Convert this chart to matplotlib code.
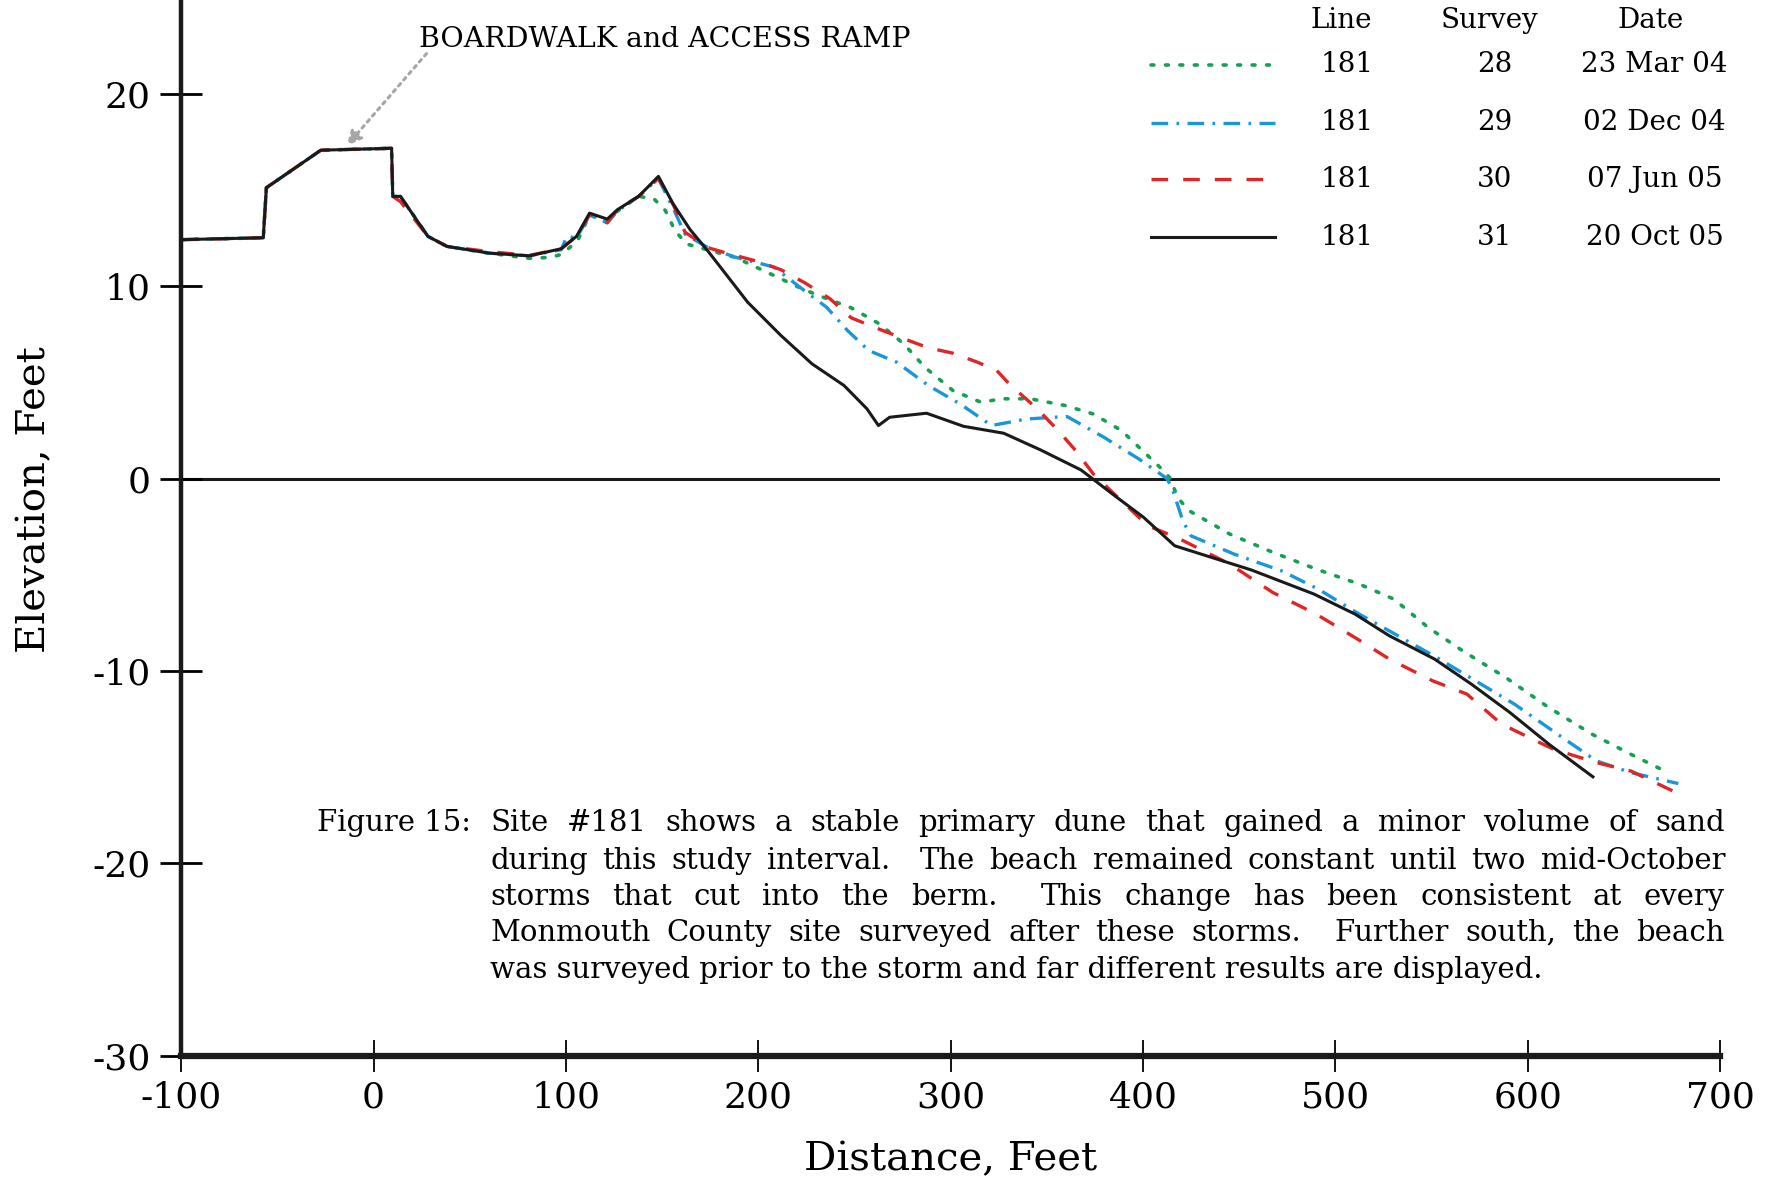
import re
import matplotlib.pyplot as plt

plt.rcParams['font.family'] = ['DejaVu Serif']

# Profile line 181, four surveys (distance ft, elevation ft)
x28 = [-100, -57.3, -55.7, -27.4, 9.4, 10.0, 14.0, 28.3, 38.2, 60.1, 81.0, 92.0, 97.6,
       106.0, 112.3, 121.5, 126.8, 137.8, 145.7, 151.7, 156.7, 162.6, 171.6, 188.0,
       208.1, 222.7, 233.7, 248.3, 262.9, 275.7, 286.6, 301.2, 315.8, 326.7, 341.4,
       359.6, 374.2, 388.8, 401.6, 410.6, 414.3, 417.9, 423.8, 445.1, 467.5, 490.0,
       512.4, 530.4, 548.3, 566.2, 588.6, 611.0, 633.4, 653.7, 669.3]
y28 = [12.42, 12.52, 15.12, 17.07, 17.17, 14.67, 14.67, 12.59, 12.07, 11.72, 11.45, 11.5, 11.65,
       12.35, 13.7, 13.4, 13.9, 14.67, 14.55, 13.94, 12.9, 12.2, 11.95, 11.5,
       10.56, 9.87, 9.43, 8.88, 8.05, 7.0, 5.79, 4.58, 3.97, 4.15, 4.15,
       3.8, 3.36, 2.5, 1.28, 0.42, 0.0, -0.97, -1.66, -2.88, -3.83, -4.7,
       -5.48, -6.26, -7.74, -8.95, -10.34, -11.9, -13.28, -14.33, -15.1]

x29 = [-100, -57.3, -55.7, -27.4, 9.4, 10.0, 14.0, 28.3, 38.2, 60.1, 81.0, 97.6, 100.5,
       105.5, 112.3, 121.5, 126.8, 137.8, 148.1, 156.0, 162.0, 174.0, 188.1, 208.1,
       222.7, 235.5, 246.4, 257.4, 272.0, 288.4, 304.8, 321.3, 339.5, 360.5, 379.7,
       397.9, 412.5, 415.3, 420.7, 424.9, 447.3, 472.0, 491.1, 512.4, 532.6, 552.8,
       572.9, 593.1, 615.5, 635.7, 653.7, 678.3]
y29 = [12.42, 12.52, 15.12, 17.07, 17.17, 14.67, 14.67, 12.59, 12.07, 11.72, 11.58, 11.9, 12.6,
       12.5, 13.7, 13.3, 13.9, 14.67, 15.6, 14.0, 12.7, 12.0, 11.51, 11.0,
       9.87, 8.91, 7.7, 6.66, 6.05, 4.84, 3.89, 2.76, 3.1, 3.23, 2.15,
       1.02, 0.0, -0.54, -2.19, -2.97, -3.92, -4.79, -5.74, -7.04, -8.17, -9.3,
       -10.51, -11.72, -13.28, -14.67, -15.28, -15.85]

x30 = [-100, -57.3, -55.7, -27.4, 9.4, 10.0, 14.0, 28.3, 38.2, 60.1, 81.0, 97.6, 105.5,
       112.3, 121.5, 126.8, 137.8, 148.1, 156.0, 162.0, 174.0, 183.6, 199.0, 211.8,
       224.5, 237.3, 248.3, 261.1, 275.7, 288.4, 301.2, 314.0, 324.0, 330.4, 345.0,
       355.9, 365.0, 374.2, 385.1, 402.5, 418.2, 445.1, 467.5, 490.0, 510.2, 528.1,
       550.6, 568.4, 586.4, 613.3, 635.7, 653.7, 678.3]
y30 = [12.42, 12.52, 15.12, 17.07, 17.17, 14.67, 14.4, 12.59, 12.07, 11.8, 11.6, 11.95, 12.59,
       13.7, 13.3, 13.98, 14.67, 15.6, 14.2, 12.8, 12.0, 11.72, 11.31, 10.86,
       10.16, 9.35, 8.36, 7.84, 7.27, 6.8, 6.52, 6.05, 5.62, 4.93, 3.63,
       2.5, 1.46, 0.24, -0.8, -2.45, -3.09, -4.44, -5.92, -7.04, -8.26, -9.38,
       -10.51, -11.2, -12.76, -14.06, -14.76, -15.2, -16.37]

x31 = [-100, -57.3, -55.7, -27.4, 9.4, 10.0, 14.0, 28.3, 38.2, 60.1, 81.0, 97.6, 105.5,
       112.3, 121.5, 126.8, 137.8, 148.1, 155.7, 164.6, 173.6, 194.5, 211.8, 227.9,
       244.6, 256.5, 262.5, 268.3, 287.5, 306.7, 327.6, 346.8, 367.8, 386.0, 400.3,
       416.5, 456.4, 488.9, 510.2, 528.1, 551.6, 570.7, 590.8, 611.0, 633.9]
y31 = [12.42, 12.52, 15.12, 17.07, 17.17, 14.67, 14.67, 12.59, 12.07, 11.72, 11.58, 11.95, 12.59,
       13.8, 13.49, 13.98, 14.67, 15.71, 14.29, 12.94, 11.86, 9.17, 7.44, 5.97,
       4.84, 3.63, 2.76, 3.19, 3.4, 2.72, 2.36, 1.49, 0.45, -0.94, -2.01,
       -3.49, -4.75, -6.0, -7.04, -8.17, -9.38, -10.68, -12.16, -13.8, -15.5]

line_ids = ['181', '181', '181', '181']
survey_ids = ['28', '29', '30', '31']
dates = ['23 Mar 04', '02 Dec 04', '07 Jun 05', '20 Oct 05']

xticks = [-100, 0, 100, 200, 300, 400, 500, 600, 700]
yticks = [-30, -20, -10, 0, 10, 20]

caption_lines = [
    "Site #181 shows a stable primary dune that gained a minor volume of sand",
    "during this study interval.  The beach remained constant until two mid-October",
    "storms that cut into the berm.  This change has been consistent at every",
    "Monmouth County site surveyed after these storms.  Further south, the beach",
    "was surveyed prior to the storm and far different results are displayed.",
]

green = '#17a052'
blue = '#1a96dc'
red = '#de2626'

styles = [
    dict(color=green, lw=2.6, ls=(0, (0.8, 3.2)), dash_capstyle='round'),
    dict(color=blue, lw=2.4, ls=(0, (5, 2.5, 0.8, 2.5))),
    dict(color=red, lw=2.4, ls=(0, (5, 4.5))),
    dict(color='#1a1a1a', lw=2.2, ls='-'),
]

fig = plt.figure(figsize=(17.76, 11.81), dpi=100)
ax = fig.add_axes([0.102, 0.106, 0.8665, 0.896])

series = [(x28, y28), (x29, y29), (x30, y30), (x31, y31)]
for (xs, ys), st in zip(series, styles):
    ax.plot(xs, ys, **st)

ax.axhline(0, color='#1a1a1a', lw=2.2, zorder=1)

ax.set_xlim(-100, 700)
ax.set_ylim(-30, 25)
ax.set_xticks(xticks)
ax.set_yticks(yticks)
ax.set_xticklabels([str(v) for v in xticks])
ax.set_yticklabels([str(v) for v in yticks])
ax.tick_params(axis='x', direction='inout', length=23, width=1.3, labelsize=26, pad=6)
ax.tick_params(axis='y', direction='inout', length=30, width=2.0, labelsize=26, pad=7)

for side in ['top', 'right']:
    ax.spines[side].set_visible(False)
ax.spines['left'].set_linewidth(3.2)
ax.spines['bottom'].set_linewidth(4.5)
ax.spines['left'].set_color('#1a1a1a')
ax.spines['bottom'].set_color('#1a1a1a')

ax.set_xlabel('Distance, Feet', fontsize=29)
ax.set_ylabel('Elevation, Feet', fontsize=29)
ax.xaxis.set_label_coords(0.5, -0.081)
ax.yaxis.set_label_coords(-0.083, 0.526)

# boardwalk callout
ax.annotate('', xy=(-14.8, 17.2), xytext=(28.5, 22.2),
            arrowprops=dict(arrowstyle='-|>', color='#a6a6a6', lw=2.2,
                            linestyle=(0, (1, 1.6)), mutation_scale=22))
ax.text(23.5, 22.8, 'BOARDWALK and ACCESS RAMP', fontsize=20.4, va='center', ha='left')

# legend table
hdr_y = 23.8
row_y = [21.5, 18.5, 15.56, 12.54]
ax.text(503, hdr_y, 'Line', fontsize=20, ha='center', va='center')
ax.text(580, hdr_y, 'Survey', fontsize=20, ha='center', va='center')
ax.text(664, hdr_y, 'Date', fontsize=20, ha='center', va='center')
for yy, st, ln, sv, dt in zip(row_y, styles, line_ids, survey_ids, dates):
    ax.plot([404, 468.5], [yy, yy], clip_on=False, **st)
    ax.text(506, yy, ln, fontsize=20, ha='center', va='center')
    ax.text(583, yy, sv, fontsize=20, ha='center', va='center')
    ax.text(666, yy, dt, fontsize=20, ha='center', va='center')

# justified figure caption
W, H = 1776, 1181
cap_left, cap_right = 490, 1725
cap_ys = [823, 861, 897, 933, 970]
cap_fs = 21
fig.text(317 / W, 1 - cap_ys[0] / H, 'Figure 15:', fontsize=cap_fs, va='center', ha='left')

fig.canvas.draw()
renderer = fig.canvas.get_renderer()
for i, (line, yy) in enumerate(zip(caption_lines, cap_ys)):
    yf = 1 - yy / H
    if i == len(caption_lines) - 1:
        fig.text(cap_left / W, yf, line, fontsize=cap_fs, va='center', ha='left')
        continue
    words = line.split()
    # sentence breaks (two spaces) get a double-width gap
    weights = [len(s) for s in re.findall(r' +', line)]
    objs = [fig.text(0, yf, w, fontsize=cap_fs, va='center', ha='left') for w in words]
    widths = [o.get_window_extent(renderer).width for o in objs]
    unit = (cap_right - cap_left - sum(widths)) / sum(weights)
    xpos = cap_left
    for k, (o, w) in enumerate(zip(objs, widths)):
        o.set_x(xpos / W)
        if k < len(weights):
            xpos += w + unit * weights[k]

fig.savefig('out.png', dpi=100)
